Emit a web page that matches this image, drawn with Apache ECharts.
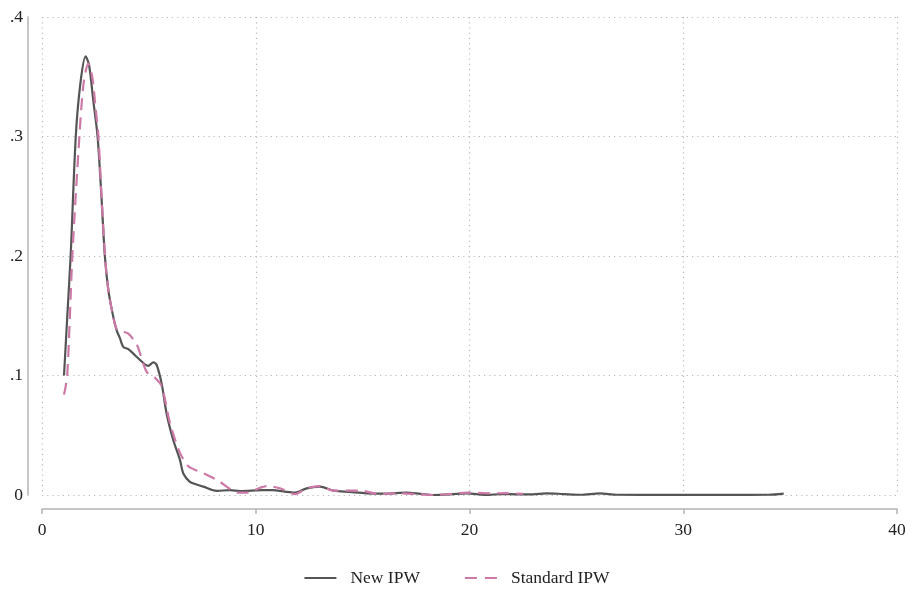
<!DOCTYPE html>
<html>
<head>
<meta charset="utf-8">
<script src="https://cdn.jsdelivr.net/npm/echarts@6/dist/echarts.min.js"></script>
<style>
  html, body { margin: 0; padding: 0; background: #fff; }
  #chart { width: 914px; height: 592px; }
</style>
</head>
<body>
<div id="chart"></div>
<script>
// New IPW density (solid)
var newX = [1.03, 1.2, 1.34, 1.58, 1.8, 2.04, 2.2, 2.4, 2.6, 2.78, 2.94, 3.1, 3.3, 3.49, 3.65, 3.8, 4.04, 4.35, 4.58, 4.97, 5.21, 5.36, 5.6, 5.83, 6.14, 6.46, 6.61, 6.92, 7.2, 7.55, 8.17, 8.8, 9.27, 10.35, 10.8, 11.29, 11.84, 12.38, 13.0, 13.63, 14.4, 15.19, 16.1, 17.06, 17.7, 18.3, 19.1, 19.87, 20.8, 21.5, 22.2, 22.96, 23.6, 24.4, 25.2, 26.1, 26.9, 28, 30, 32, 34, 34.7];
var newY = [0.1, 0.155, 0.2, 0.3, 0.345, 0.367, 0.36, 0.33, 0.3, 0.25, 0.2, 0.172, 0.152, 0.138, 0.131, 0.124, 0.122, 0.117, 0.113, 0.108, 0.111, 0.109, 0.093, 0.068, 0.046, 0.029, 0.018, 0.011, 0.009, 0.007, 0.0035, 0.004, 0.0033, 0.004, 0.004, 0.003, 0.002, 0.0056, 0.007, 0.0036, 0.0025, 0.0014, 0.0012, 0.002, 0.001, 0.0, 0.0005, 0.0014, 0.0, 0.0008, 0.0006, 0.0006, 0.0014, 0.0008, 0.0002, 0.0014, 0.0002, 0.0001, 0.0001, 0.0001, 0.0002, 0.0012];

// Standard IPW density (dashed)
var stdX = [1.03, 1.18, 1.42, 1.75, 1.95, 2.17, 2.35, 2.5, 2.64, 2.8, 2.95, 3.1, 3.3, 3.49, 3.75, 4.04, 4.43, 4.58, 4.9, 5.29, 5.6, 5.99, 6.46, 6.85, 7.3, 7.7, 8.33, 8.8, 9.18, 9.6, 10.2, 10.51, 11.13, 11.84, 12.38, 13.0, 13.63, 14.88, 15.8, 16.7, 17.5, 18.3, 19.1, 19.87, 20.96, 21.7, 22.5];
var stdY = [0.084, 0.1, 0.2, 0.3, 0.345, 0.361, 0.35, 0.325, 0.3, 0.245, 0.2, 0.172, 0.152, 0.139, 0.137, 0.135, 0.126, 0.119, 0.103, 0.098, 0.091, 0.06, 0.035, 0.024, 0.02, 0.017, 0.011, 0.005, 0.002, 0.002, 0.006, 0.0075, 0.0056, 0.0008, 0.0056, 0.0075, 0.0036, 0.0036, 0.0008, 0.0014, 0.0008, 0.0, 0.0008, 0.002, 0.0014, 0.0015, 0.001];

var seriesNames = ['New IPW', 'Standard IPW'];
var xTicks = [0, 10, 20, 30, 40];
var yTicks = [0, 0.1, 0.2, 0.3, 0.4];

function pairs(xs, ys) {
  var out = [];
  for (var i = 0; i < xs.length; i++) {
    out.push([xs[i], ys[i]]);
  }
  return out;
}

var fontFam = '"Liberation Serif", "DejaVu Serif", serif';
var axisColor = '#b4b4b4';
var gridLine = { show: true, lineStyle: { color: '#b8b8b8', width: 1.2, type: [1.2, 4] } };

var chart = echarts.init(document.getElementById('chart'), null, { renderer: 'canvas' });
chart.setOption({
  animation: false,
  backgroundColor: '#ffffff',
  grid: { left: 42, right: 17, top: 17, bottom: 97, containLabel: false },
  legend: {
    left: 'center',
    top: 564,
    itemWidth: 32,
    itemHeight: 2,
    itemGap: 45,
    data: [
      { name: seriesNames[0], icon: 'path://M0,0H32V2H0Z' },
      { name: seriesNames[1], icon: 'path://M0,0H12V2H0Z M20,0H32V2H20Z' }
    ],
    textStyle: { fontFamily: fontFam, fontSize: 17.5, color: '#222', padding: [0, 0, 0, 9] }
  },
  xAxis: {
    type: 'value',
    min: xTicks[0],
    max: xTicks[xTicks.length - 1],
    interval: 10,
    offset: 14,
    axisLine: { show: true, onZero: false, lineStyle: { color: axisColor, width: 1.5 } },
    axisTick: { show: true, length: 5, lineStyle: { color: axisColor, width: 1.5 } },
    axisLabel: { margin: 12, fontFamily: fontFam, fontSize: 17.5, color: '#222' },
    splitLine: gridLine
  },
  yAxis: {
    type: 'value',
    min: yTicks[0],
    max: yTicks[yTicks.length - 1],
    interval: 0.1,
    offset: 14,
    axisLine: { show: true, onZero: false, lineStyle: { color: axisColor, width: 1.5 } },
    axisTick: { show: false },
    axisLabel: {
      margin: 5,
      fontFamily: fontFam,
      fontSize: 17.5,
      color: '#222',
      formatter: function (v) {
        if (v === 0) return '0';
        return '.' + Math.round(v * 10);
      }
    },
    splitLine: gridLine
  },
  series: [
    {
      name: seriesNames[0],
      type: 'line',
      data: pairs(newX, newY),
      showSymbol: false,
      symbol: 'none',
      smooth: 0.3,
      color: '#555555',
      lineStyle: { color: '#555555', width: 2.2 }
    },
    {
      name: seriesNames[1],
      type: 'line',
      data: pairs(stdX, stdY),
      showSymbol: false,
      symbol: 'none',
      smooth: 0.3,
      color: '#cc79a7',
      lineStyle: { color: '#cc79a7', width: 2.2, type: [12, 7] }
    }
  ]
});
</script>
</body>
</html>
